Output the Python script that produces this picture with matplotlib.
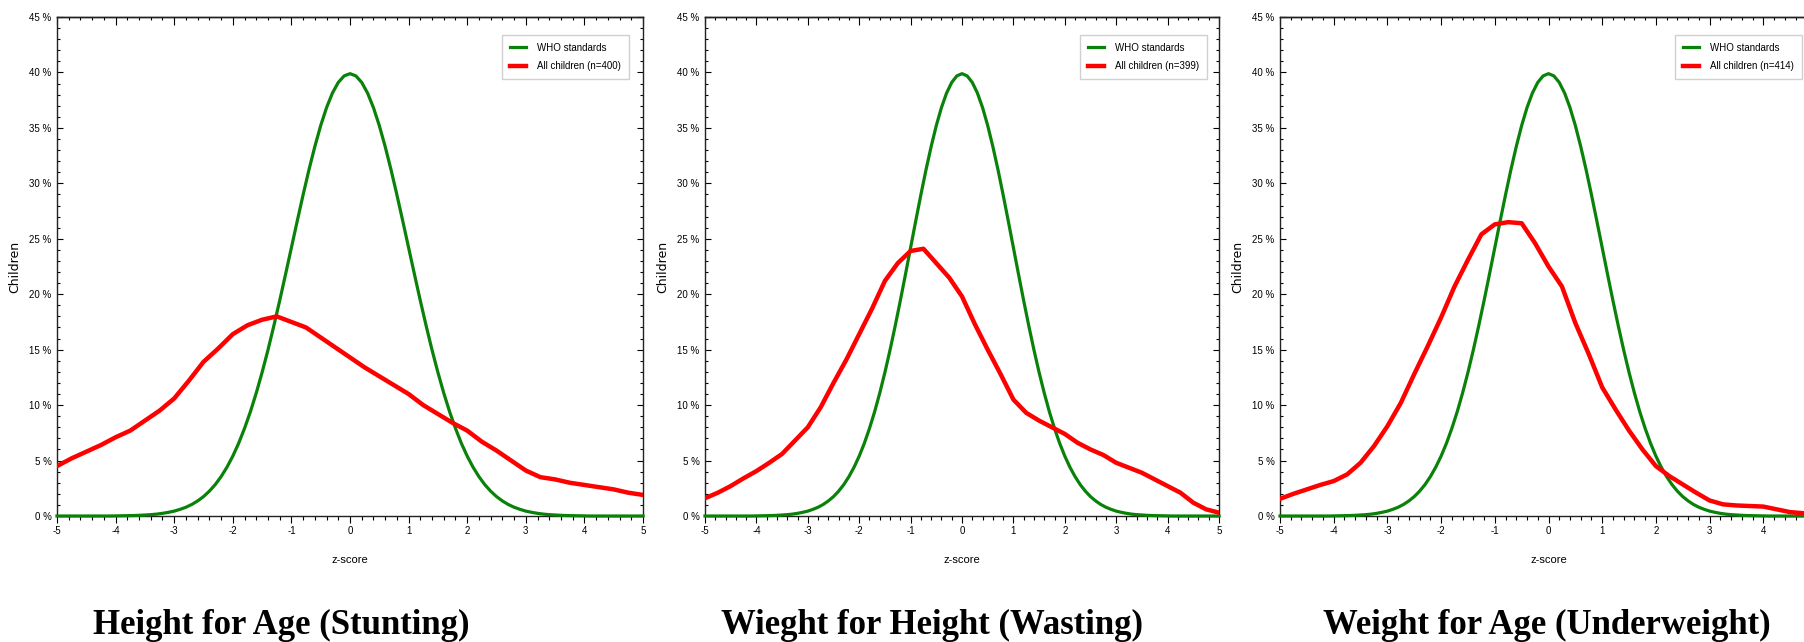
import matplotlib
matplotlib.use("Agg")
import matplotlib.pyplot as plt
from matplotlib.ticker import MultipleLocator

plt.rcParams["axes.unicode_minus"] = False

## Data
z_who = [-5.0, -4.9, -4.8, -4.7, -4.6, -4.5, -4.4, -4.3, -4.2, -4.1,
         -4.0, -3.9, -3.8, -3.7, -3.6, -3.5, -3.4, -3.3, -3.2, -3.1,
         -3.0, -2.9, -2.8, -2.7, -2.6, -2.5, -2.4, -2.3, -2.2, -2.1,
         -2.0, -1.9, -1.8, -1.7, -1.6, -1.5, -1.4, -1.3, -1.2, -1.1,
         -1.0, -0.9, -0.8, -0.7, -0.6, -0.5, -0.4, -0.3, -0.2, -0.1,
         0.0, 0.1, 0.2, 0.3, 0.4, 0.5, 0.6, 0.7, 0.8, 0.9,
         1.0, 1.1, 1.2, 1.3, 1.4, 1.5, 1.6, 1.7, 1.8, 1.9,
         2.0, 2.1, 2.2, 2.3, 2.4, 2.5, 2.6, 2.7, 2.8, 2.9,
         3.0, 3.1, 3.2, 3.3, 3.4, 3.5, 3.6, 3.7, 3.8, 3.9,
         4.0, 4.1, 4.2, 4.3, 4.4, 4.5, 4.6, 4.7, 4.8, 4.9, 5.0]
who_pct = [0.0, 0.0, 0.0, 0.0, 0.0, 0.0, 0.0, 0.0, 0.0, 0.0,
           0.01, 0.02, 0.03, 0.04, 0.06, 0.09, 0.12, 0.17, 0.24, 0.33,
           0.44, 0.60, 0.79, 1.04, 1.36, 1.75, 2.24, 2.83, 3.55, 4.40,
           5.40, 6.56, 7.90, 9.40, 11.09, 12.95, 14.97, 17.14, 19.42, 21.79,
           24.20, 26.61, 28.97, 31.23, 33.32, 35.21, 36.83, 38.14, 39.10, 39.69,
           39.89, 39.69, 39.10, 38.14, 36.83, 35.21, 33.32, 31.23, 28.97, 26.61,
           24.20, 21.79, 19.42, 17.14, 14.97, 12.95, 11.09, 9.40, 7.90, 6.56,
           5.40, 4.40, 3.55, 2.83, 2.24, 1.75, 1.36, 1.04, 0.79, 0.60,
           0.44, 0.33, 0.24, 0.17, 0.12, 0.09, 0.06, 0.04, 0.03, 0.02,
           0.01, 0.0, 0.0, 0.0, 0.0, 0.0, 0.0, 0.0, 0.0, 0.0, 0.0]

z_obs = [-5.0, -4.75, -4.5, -4.25, -4.0, -3.75, -3.5, -3.25, -3.0, -2.75,
         -2.5, -2.25, -2.0, -1.75, -1.5, -1.25, -1.0, -0.75, -0.5, -0.25,
         0.0, 0.25, 0.5, 0.75, 1.0, 1.25, 1.5, 1.75, 2.0, 2.25,
         2.5, 2.75, 3.0, 3.25, 3.5, 3.75, 4.0, 4.25, 4.5, 4.75, 5.0]

hfa_pct = [4.5, 5.2, 5.8, 6.4, 7.1, 7.7, 8.6, 9.5, 10.6, 12.2,
           13.9, 15.1, 16.4, 17.2, 17.7, 18.0, 17.5, 17.0, 16.1, 15.2,
           14.3, 13.4, 12.6, 11.8, 11.0, 10.0, 9.2, 8.4, 7.7, 6.7,
           5.9, 5.0, 4.1, 3.5, 3.3, 3.0, 2.8, 2.6, 2.4, 2.1, 1.9]

wfh_pct = [1.6, 2.1, 2.7, 3.4, 4.05, 4.8, 5.6, 6.8, 8.0, 9.8,
           12.0, 14.1, 16.4, 18.7, 21.2, 22.8, 23.9, 24.1, 22.8, 21.5,
           19.8, 17.3, 15.0, 12.8, 10.5, 9.3, 8.6, 8.0, 7.4, 6.6,
           6.0, 5.5, 4.8, 4.35, 3.9, 3.3, 2.7, 2.1, 1.2, 0.6, 0.3]

wfa_pct = [1.55, 2.0, 2.4, 2.8, 3.15, 3.75, 4.8, 6.3, 8.1, 10.2,
           12.8, 15.3, 17.9, 20.7, 23.1, 25.4, 26.3, 26.5, 26.4, 24.6,
           22.5, 20.7, 17.4, 14.6, 11.6, 9.6, 7.7, 6.0, 4.5, 3.6,
           2.85, 2.1, 1.4, 1.05, 0.95, 0.9, 0.85, 0.6, 0.35, 0.25, 0.1]

panel_obs = [hfa_pct, wfh_pct, wfa_pct]
panel_n = [400, 399, 414]
panel_titles = ["Height for Age (Stunting)", "Wieght for Height (Wasting)",
                "Weight for Age (Underweight)"]
x_ticks = [-5, -4, -3, -2, -1, 0, 1, 2, 3, 4, 5]
x_ticklabels = ["-5", "-4", "-3", "-2", "-1", "0", "1", "2", "3", "4", "5"]
y_ticks = [0, 5, 10, 15, 20, 25, 30, 35, 40, 45]
y_ticklabels = ["0 %", "5 %", "10 %", "15 %", "20 %", "25 %", "30 %",
                "35 %", "40 %", "45 %"]

## Layout (pixels of a 1804x642 canvas)
W, H = 1804, 642
axes_px = [(57, 586), (705, 514), (1280, 537)]   # left, width
top_px, bottom_px = 17, 516
title_x_px = [281, 932, 1547]
narrow = ["Liberation Sans Narrow", "Liberation Sans", "DejaVu Sans"]

fig = plt.figure(figsize=(W / 100, H / 100), dpi=100)

for i in range(3):
    left, width = axes_px[i]
    ax = fig.add_axes([left / W, 1 - bottom_px / H, width / W,
                       (bottom_px - top_px) / H])
    ax.plot(z_who, who_pct, color="#0a820a", lw=2.3, label="WHO standards",
            clip_on=False, zorder=3, solid_joinstyle="round")
    ax.plot(z_obs, panel_obs[i], color="#ff0000", lw=3.2,
            label=f"All children (n={panel_n[i]})", zorder=4,
            solid_joinstyle="round")
    ax.set_xlim(-5, 5)
    ax.set_ylim(0, 45)

    # the last panel runs past the canvas edge, its "5" is not visible
    labels = x_ticklabels if i < 2 else x_ticklabels[:-1] + [""]
    ax.set_xticks(x_ticks)
    ax.set_xticklabels(labels, family=narrow, fontsize=7)
    ax.xaxis.set_minor_locator(MultipleLocator(0.2))
    ax.tick_params(axis="x", which="major", direction="out", length=5,
                   width=0.8, pad=2)
    ax.tick_params(axis="x", which="minor", direction="out", length=3,
                   width=0.8)

    ax.set_yticks(y_ticks)
    ax.set_yticklabels(y_ticklabels, family=narrow, fontsize=7)
    ax.yaxis.set_minor_locator(MultipleLocator(1))
    ax.tick_params(axis="y", which="both", direction="in", left=True,
                   right=True, width=0.8, pad=4)
    ax.tick_params(axis="y", which="major", length=4)
    ax.tick_params(axis="y", which="minor", length=2)

    top = ax.secondary_xaxis("top")
    top.set_xticks(x_ticks)
    top.xaxis.set_minor_locator(MultipleLocator(0.2))
    top.tick_params(axis="x", which="major", direction="in", length=6,
                    width=0.8, labeltop=False)
    top.tick_params(axis="x", which="minor", direction="in", length=2.5,
                    width=0.8)
    top.spines["top"].set_linewidth(1.0)

    for s in ax.spines.values():
        s.set_linewidth(1.0)
        s.set_color("#222222")

    ax.set_xlabel("z-score", family=narrow, fontsize=8, labelpad=14)
    ax.set_ylabel("Children", fontsize=9, labelpad=6)

    leg_right = {0: 0.976, 1: 0.977, 2: 0.972}[i]
    ax.legend(loc="upper right", bbox_to_anchor=(leg_right, 0.964),
              borderaxespad=0, prop={"family": narrow, "size": 7},
              fancybox=False, edgecolor="#d0d0d0", framealpha=1,
              handlelength=1.6, handletextpad=1.2, labelspacing=0.9,
              borderpad=0.8)

    fig.text(title_x_px[i] / W, (H - 634) / H, panel_titles[i],
             ha="center", va="baseline", family="Liberation Serif",
             fontweight="bold", fontsize=25)

fig.savefig("out.png", dpi=100)
